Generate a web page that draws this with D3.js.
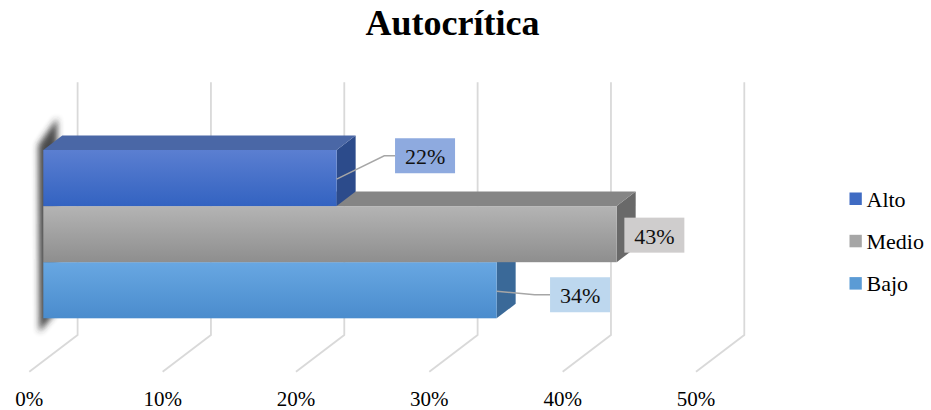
<!DOCTYPE html>
<html>
<head>
<meta charset="utf-8">
<script src="https://cdn.jsdelivr.net/npm/d3@7"></script>
<style>
  html, body { margin: 0; padding: 0; background: #fff; }
  svg { display: block; font-family: "Liberation Serif", "Times New Roman", serif; }
</style>
</head>
<body>
<svg id="chart" width="931" height="410"></svg>
<script>
// Chart data
const title = "Autocrítica";
const categories = ["Alto", "Medio", "Bajo"];
const values = [0.22, 0.43, 0.34];
const tickValues = [0, 0.1, 0.2, 0.3, 0.4, 0.5];
const tickLabels = ["0%", "10%", "20%", "30%", "40%", "50%"];

// Per-series palette: front gradient (top, bottom), top face, side face, label box
const palette = {
  Alto:  { f0: "#5b7fd1", f1: "#3363c1", top: "#4a67a6", side: "#2c4b8b", box: "#8eaadf", key: "#3f6bc3" },
  Medio: { f0: "#b4b4b4", f1: "#8e8e8e", top: "#858585", side: "#696969", box: "#cfcdcd", key: "#a6a6a6" },
  Bajo:  { f0: "#68a7e2", f1: "#4a8ccd", top: "#4f83b8", side: "#3a6998", box: "#bdd7ee", key: "#5b9bd5" }
};

const svg = d3.select("#chart");
const defs = svg.append("defs");

// 3D layout: bar front plane, bar depth, wall depth
const barDepth = { dx: 19, dy: 14.5 };
const wallBack = { dx: 34.3 };
const floorFront = { dx: -14, y: 371.7 };

const x = d3.scaleLinear().domain([0, 0.5]).range([43.3, 710]);
const y = d3.scaleBand().domain(categories).range([150, 318.3]).padding(0);

// Title
svg.append("text")
  .attr("x", 452.5).attr("y", 35)
  .attr("text-anchor", "middle")
  .attr("font-size", 36).attr("font-weight", "bold")
  .attr("fill", "#000")
  .text(title);

// Gridlines: back wall verticals plus floor diagonals
const grid = svg.append("g");
tickValues.forEach(t => {
  const bx = x(t) + wallBack.dx;
  const fx = x(t) + floorFront.dx;
  grid.append("path")
    .attr("d", `M${bx},82.3 L${bx},335 L${fx},${floorFront.y}`)
    .attr("fill", "none")
    .attr("stroke", "#d9d9d9")
    .attr("stroke-width", 1.8);
});

// Axis labels along the floor front edge
const axisG = svg.append("g");
tickValues.forEach((t, i) => {
  axisG.append("text")
    .attr("x", x(t) + floorFront.dx)
    .attr("y", 406)
    .attr("text-anchor", "middle")
    .attr("font-size", 21)
    .attr("fill", "#000")
    .text(tickLabels[i]);
});

// Soft shadow along the left side of the bar block
const blur = defs.append("filter").attr("id", "shadowBlur")
  .attr("x", "-100%").attr("y", "-20%").attr("width", "300%").attr("height", "140%");
blur.append("feGaussianBlur").attr("stdDeviation", 3.2);
const yTop = y.range()[0], yBot = y.range()[1], x0 = x(0);
svg.append("path")
  .attr("d", `M${x0 - 5},${yTop - 5} L${x0 + 14},${yTop - 32} L${x0 + 14},${yBot - 8} L${x0 - 4},${yBot + 14} Z`)
  .attr("fill", "#2a2a2a")
  .attr("opacity", 0.85)
  .attr("filter", "url(#shadowBlur)");

// Front gradients
categories.forEach(c => {
  const g = defs.append("linearGradient").attr("id", "grad-" + c)
    .attr("x1", 0).attr("y1", 0).attr("x2", 0).attr("y2", 1);
  g.append("stop").attr("offset", "0%").attr("stop-color", palette[c].f0);
  g.append("stop").attr("offset", "100%").attr("stop-color", palette[c].f1);
});

// Bars, drawn bottom to top so upper bars cover lower top faces
const bars = svg.append("g");
const order = categories.map((c, i) => ({ c, v: values[i] })).reverse();
order.forEach(d => {
  const x1 = x(0), x2 = x(d.v);
  const t = y(d.c), b = y(d.c) + y.bandwidth();
  const { dx, dy } = barDepth;
  const p = palette[d.c];
  // right side face
  bars.append("path")
    .attr("d", `M${x2},${t} L${x2 + dx},${t - dy} L${x2 + dx},${b - dy} L${x2},${b} Z`)
    .attr("fill", p.side);
  // top face
  bars.append("path")
    .attr("d", `M${x1},${t} L${x1 + dx},${t - dy} L${x2 + dx},${t - dy} L${x2},${t} Z`)
    .attr("fill", p.top);
  // front face
  bars.append("rect")
    .attr("x", x1).attr("y", t)
    .attr("width", x2 - x1).attr("height", b - t)
    .attr("fill", `url(#grad-${d.c})`);
});

// Data labels with leader lines
const labelSpec = {
  Alto:  { ox: 58.4, cy: -22.3, leader: true, bend: 47.6 },
  Medio: { ox: 7.7,  cy: 1,     leader: false },
  Bajo:  { ox: 53.4, cy: 4.5,   leader: true, bend: 38 }
};
const labels = svg.append("g");
categories.forEach((c, i) => {
  const s = labelSpec[c];
  const endX = x(values[i]);
  const midY = y(c) + y.bandwidth() / 2;
  const bw = 60, bh = 35;
  const bx = endX + s.ox, by = midY + s.cy - bh / 2;
  if (s.leader) {
    labels.append("path")
      .attr("d", `M${endX},${midY + 1} L${endX + s.bend},${midY + s.cy} L${bx},${midY + s.cy}`)
      .attr("fill", "none")
      .attr("stroke", "#a6a6a6")
      .attr("stroke-width", 1.5);
  }
  labels.append("rect")
    .attr("x", bx).attr("y", by)
    .attr("width", bw).attr("height", bh)
    .attr("fill", palette[c].box);
  labels.append("text")
    .attr("x", bx + bw / 2).attr("y", midY + s.cy + 8.5)
    .attr("text-anchor", "middle")
    .attr("font-size", 22)
    .attr("fill", "#111")
    .text(d3.format(".0%")(values[i]));
});

// Legend
const legend = svg.append("g");
categories.forEach((c, i) => {
  const ly = 192.5 + i * 42.3;
  legend.append("rect")
    .attr("x", 849.5).attr("y", ly)
    .attr("width", 12.3).attr("height", 12.5)
    .attr("fill", palette[c].key);
  legend.append("text")
    .attr("x", 866.5).attr("y", ly + 14)
    .attr("font-size", 22)
    .attr("fill", "#000")
    .text(c);
});
</script>
</body>
</html>
